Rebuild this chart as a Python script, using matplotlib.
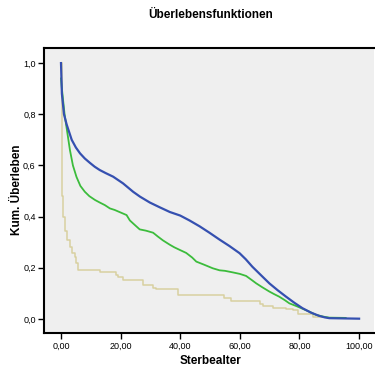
import matplotlib
matplotlib.use("Agg")
import matplotlib.pyplot as plt

# Kaplan-Meier curves (age, cumulative survival)
blue_x = [0, 0.3, 1.0, 1.9, 3.6, 5.0, 6.4, 8.0, 9.7, 11.3, 13.0, 15.0, 17.5,
          20.8, 24.2, 26.5, 29.8, 33.0, 36.5, 40.0, 43.1, 46.5, 49.8, 53.2,
          56.5, 59.9, 62.0, 64.2, 67.0, 69.9, 72.7, 75.5, 78.3, 81.0, 83.8,
          86.6, 88.5, 90.0, 95.0, 100.0]
blue_y = [1.0, 0.88, 0.80, 0.76, 0.70, 0.67, 0.647, 0.627, 0.61, 0.595, 0.582,
          0.57, 0.556, 0.53, 0.497, 0.478, 0.455, 0.437, 0.418, 0.404, 0.385,
          0.362, 0.337, 0.31, 0.285, 0.257, 0.233, 0.204, 0.172, 0.139, 0.112,
          0.087, 0.063, 0.042, 0.025, 0.012, 0.006, 0.003, 0.002, 0.001]

green_x = [0, 0.3, 1.2, 2.1, 3.0, 4.0, 5.2, 6.5, 8.0, 9.5, 11.4, 13.0, 14.7,
           16.4, 18.0, 20.0, 22.0, 23.1, 24.5, 26.4, 28.5, 30.9, 32.5, 34.2,
           36.5, 38.0, 39.8, 42.0, 44.0, 45.4, 48.0, 50.9, 53.2, 55.0, 57.6,
           60.0, 62.1, 64.0, 65.5, 67.5, 69.9, 71.5, 73.2, 75.0, 76.6, 79.0,
           81.0, 83.0, 85.5, 88.0, 90.0, 95.5]
green_y = [0.94, 0.90, 0.80, 0.73, 0.66, 0.60, 0.555, 0.52, 0.497, 0.48, 0.465,
           0.455, 0.445, 0.432, 0.426, 0.416, 0.406, 0.385, 0.37, 0.35, 0.345,
           0.337, 0.322, 0.307, 0.29, 0.28, 0.27, 0.258, 0.24, 0.224, 0.212,
           0.198, 0.19, 0.188, 0.182, 0.176, 0.168, 0.152, 0.139, 0.124,
           0.107, 0.097, 0.087, 0.074, 0.061, 0.05, 0.04, 0.03, 0.016, 0.009,
           0.005, 0.004]

tan_x = [0, 0.2, 0.4, 0.8, 1.3, 2.0, 3.0, 3.6, 4.7, 5.2, 5.8, 13.0, 14.1,
         18.6, 19.2, 20.8, 27.5, 30.9, 32.0, 39.2, 47.6, 54.8, 57.0, 66.6,
         67.7, 71.0, 75.5, 77.7, 79.4, 84.4, 88.0]
tan_y = [1.0, 0.74, 0.48, 0.40, 0.345, 0.31, 0.28, 0.257, 0.243, 0.22, 0.191,
         0.185, 0.185, 0.172, 0.165, 0.152, 0.133, 0.12, 0.116, 0.094, 0.094,
         0.081, 0.072, 0.059, 0.051, 0.042, 0.038, 0.035, 0.018, 0.009, 0.009]

x_ticks = [0, 20, 40, 60, 80, 100]
y_ticks = [0.0, 0.2, 0.4, 0.6, 0.8, 1.0]

plt.rcParams.update({"font.family": ["Liberation Sans", "DejaVu Sans"]})

fig = plt.figure(figsize=(3.75, 3.72), dpi=100)
fig.patch.set_facecolor("white")
ax = fig.add_axes([44 / 375, 1 - 333 / 372, 330 / 375, 285 / 372])
ax.set_facecolor("#efefef")

ax.step(tan_x, tan_y, where="post", color="#d8d0a0", lw=1.1)
ax.plot(green_x, green_y, color="#3cbc3c", lw=1.3)
ax.plot(blue_x, blue_y, color="#3550b0", lw=1.6)

ax.set_xlim(-5.7, 105.0)
ax.set_ylim(-0.055, 1.059)
ax.set_xticks(x_ticks)
ax.set_xticklabels([f"{v:.2f}".replace(".", ",") for v in x_ticks])
ax.set_yticks(y_ticks)
ax.set_yticklabels([f"{v:.1f}".replace(".", ",") for v in y_ticks])
ax.tick_params(labelsize=6.5, length=4, width=1, colors="black", pad=2)

for side in ["left", "top", "bottom"]:
    ax.spines[side].set_linewidth(1.5)
    ax.spines[side].set_color("black")
ax.spines["right"].set_visible(False)

ax.set_xlabel("Sterbealter", fontsize=8.5, fontweight="bold", va="center")
ax.xaxis.set_label_coords(166 / 330, (333 - 361) / 285)
ax.set_ylabel("Kum. Überleben", fontsize=8.5, fontweight="bold", va="center")
ax.yaxis.set_label_coords((17 - 44) / 330, (333 - 190) / 285)
fig.text(211 / 375, 1 - 15 / 372, "Überlebensfunktionen", ha="center",
         va="center", fontsize=8.5, fontweight="bold")

fig.savefig("out.png", dpi=100)
